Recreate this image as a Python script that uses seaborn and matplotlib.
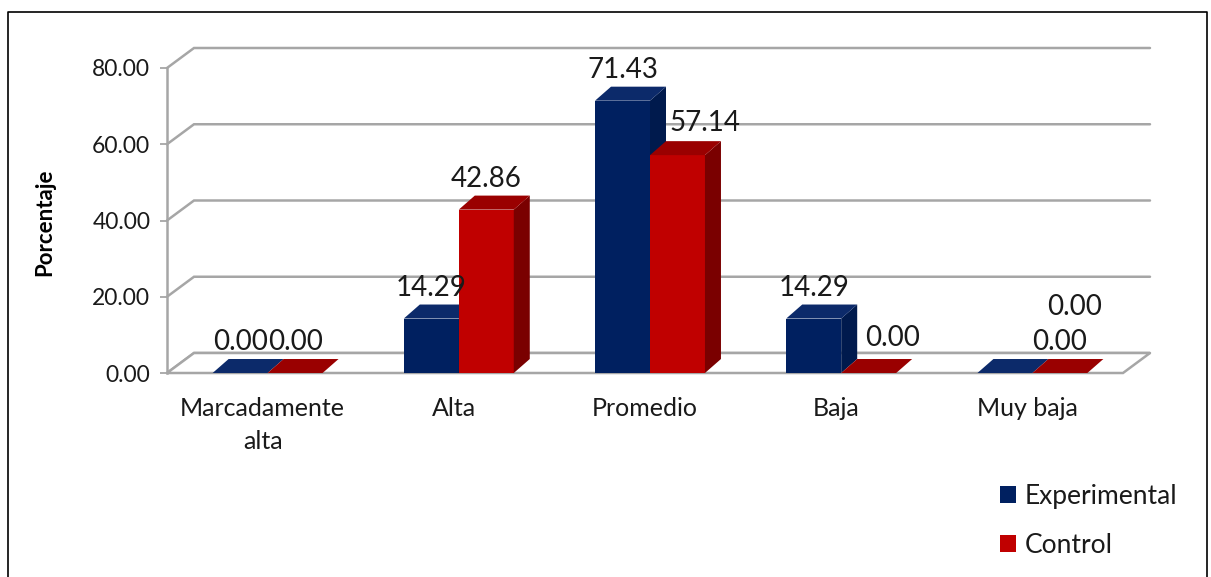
import matplotlib
matplotlib.use("Agg")
import matplotlib.pyplot as plt
from matplotlib.patches import Polygon, Patch
from matplotlib.lines import Line2D
from matplotlib.colors import to_hex
import pandas as pd
import seaborn as sns

# ---- data ----
categorias = ["Marcadamente\nalta", "Alta", "Promedio", "Baja", "Muy baja"]
experimental = [0.00, 14.29, 71.43, 14.29, 0.00]
control = [0.00, 42.86, 57.14, 0.00, 0.00]
grupos = ["Experimental", "Control"]
y_ticks = [0, 20, 40, 60, 80]

# ---- style ----
W, H, DPI = 1211, 577, 100
front_col = {"Experimental": "#002060", "Control": "#c00000"}
top_col = {"Experimental": "#0c2a6a", "Control": "#9a0000"}
side_col = {"Experimental": "#001a4d", "Control": "#7a0000"}
grid_col = "#a6a6a6"
text_col = "#1a1a1a"

sns.set_theme(style="white")
plt.rcParams["font.family"] = ["Lato", "DejaVu Sans"]

fig = plt.figure(figsize=(W / DPI, H / DPI), dpi=DPI)
fig.patch.set_facecolor("white")

# front plane of the 3-D box, in pixels
x_left, x_right, y_zero, y_top = 167, 1123, 373, 68
ax = fig.add_axes([x_left / W, 1 - y_zero / H,
                   (x_right - x_left) / W, (y_zero - y_top) / H])

df = pd.DataFrame({
    "categoria": categorias * 2,
    "porcentaje": experimental + control,
    "grupo": [grupos[0]] * len(categorias) + [grupos[1]] * len(categorias),
})

sns.barplot(data=df, x="categoria", y="porcentaje", hue="grupo",
            order=categorias, hue_order=grupos, palette=front_col,
            saturation=1, width=0.575, legend=False, ax=ax,
            linewidth=0, errorbar=None)

ax.set_xlim(-0.5, len(categorias) - 0.5)
ax.set_ylim(0, 80)

# pixel -> data conversion factors
sx = (x_right - x_left) / len(categorias)
sy = (y_zero - y_top) / 80.0
wall_dx, wall_dy = 27 / sx, 20 / sy      # depth of the back wall
bar_dx, bar_dy = 16 / sx, 14 / sy        # depth of each bar
bar_shift = 5 / sx

xmin, xmax = ax.get_xlim()

# back wall gridlines with their diagonal at the left edge
for v in y_ticks:
    ax.plot([xmin, xmin + wall_dx, xmax + wall_dx], [v, v + wall_dy, v + wall_dy],
            color=grid_col, lw=1.8, clip_on=False, zorder=1,
            solid_joinstyle="miter")

# floor
floor = Polygon([(xmin, 0), (xmax, 0), (xmax + wall_dx, wall_dy), (xmin + wall_dx, wall_dy)],
                closed=True, facecolor="white", edgecolor=grid_col, lw=1.8,
                clip_on=False, zorder=1.5)

# per-label nudges in pixels (dx, dy) where labels were moved off the bars
label_nudge = {
    ("Control", 2): (27, 1),
    ("Control", 3): (24, 4),
    ("Experimental", 4): (70, 35),
}

color_to_group = {to_hex(c): g for g, c in front_col.items()}
bars = list(ax.patches)
ax.add_patch(floor)
half = 0.575 / 4
for p in bars:
    grupo = color_to_group.get(to_hex(p.get_facecolor()))
    if grupo is None:
        continue
    gi = grupos.index(grupo)
    cat_idx = int(round(p.get_x() + p.get_width() / 2 + (half if gi == 0 else -half)))
    p.set_x(p.get_x() + bar_shift)
    x0, w, h = p.get_x(), p.get_width(), p.get_height()
    x1 = x0 + w
    base_z = 4 + 2 * gi
    p.set_zorder(base_z)
    side = Polygon([(x1, 0), (x1, h), (x1 + bar_dx, h + bar_dy), (x1 + bar_dx, bar_dy)],
                   closed=True, facecolor=side_col[grupo], edgecolor="none",
                   zorder=base_z + 0.1)
    top = Polygon([(x0, h), (x1, h), (x1 + bar_dx, h + bar_dy), (x0 + bar_dx, h + bar_dy)],
                  closed=True, facecolor=top_col[grupo], edgecolor="none",
                  zorder=base_z + 0.2)
    ax.add_patch(side)
    ax.add_patch(top)

    ndx, ndy = label_nudge.get((grupo, cat_idx), (0, 0))
    ax.annotate(f"{h:.2f}", xy=(x0 + w / 2, h), xytext=(ndx * 0.72, (31 + ndy) * 0.72),
                textcoords="offset points", ha="center", va="center",
                fontsize=20, color=text_col, zorder=10, annotation_clip=False)

# axes cosmetics
for s in ["top", "right", "bottom"]:
    ax.spines[s].set_visible(False)
ax.spines["left"].set_color(grid_col)
ax.spines["left"].set_linewidth(1.8)
ax.spines["left"].set_zorder(2)
ax.set_yticks(y_ticks)
ax.set_yticklabels([f"{v:.2f}" for v in y_ticks])
ax.tick_params(axis="y", left=True, length=5, width=1.3, color=grid_col,
               pad=7, labelsize=16.5, labelcolor=text_col)
ax.tick_params(axis="x", length=0, pad=17, labelsize=18, labelcolor=text_col)
for t in ax.get_xticklabels():
    t.set_linespacing(1.55)
ax.set_xlabel("")
ax.set_ylabel("")
ax.set_facecolor("none")

fig.text(45 / W, 1 - 222 / H, "Porcentaje", rotation=90, ha="center", va="center",
         fontsize=16, fontweight="bold", color="black")

handles = [Patch(facecolor=front_col[g], edgecolor="none") for g in grupos]
ax.legend(handles=handles, labels=grupos, loc="upper left",
          bbox_to_anchor=(1000 / W, 1 - 484 / H), bbox_transform=fig.transFigure,
          frameon=False, fontsize=19, handlelength=0.6, handleheight=0.6,
          handletextpad=0.35, labelspacing=0.9, borderpad=0, borderaxespad=0,
          labelcolor=text_col)

# outer chart border
fig.add_artist(Line2D([8 / W, 8 / W, 1207 / W, 1207 / W], [0, 1 - 12 / H, 1 - 12 / H, 0],
                      color="black", lw=1.2, transform=fig.transFigure))

fig.savefig("out.png", dpi=DPI, facecolor="white")
